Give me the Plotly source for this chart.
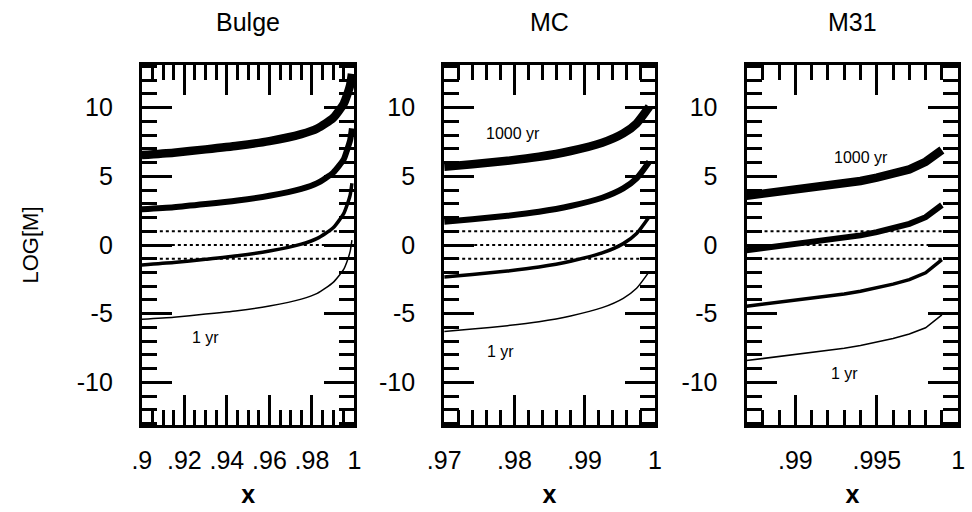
import plotly.graph_objects as go

# ---------------- data ----------------
panel_titles = ["Bulge", "MC", "M31"]

bulge_x = [0.9, 0.915, 0.93, 0.945, 0.96, 0.975, 0.9825, 0.99, 0.995, 0.9965, 0.998, 0.9988]
bulge_1000yr = [6.55, 6.72, 6.96, 7.22, 7.56, 8.07, 8.48, 9.25, 10.3, 10.9, 11.65, 12.45]
bulge_100yr = [2.6, 2.75, 2.98, 3.24, 3.58, 4.08, 4.5, 5.27, 6.25, 6.9, 7.65, 8.48]
bulge_10yr = [-1.45, -1.28, -1.04, -0.78, -0.44, 0.06, 0.48, 1.25, 2.3, 2.9, 3.65, 4.5]
bulge_1yr = [-5.4, -5.25, -5.03, -4.78, -4.44, -3.94, -3.52, -2.72, -1.75, -1.2, -0.45, 0.36]

mc_x = [0.97, 0.974, 0.979, 0.9835, 0.988, 0.9925, 0.9955, 0.9974, 0.9992]
mc_1000yr = [5.7, 5.88, 6.13, 6.42, 6.84, 7.44, 8.12, 8.85, 10.06]
mc_100yr = [1.7, 1.88, 2.13, 2.42, 2.84, 3.44, 4.12, 4.85, 6.06]
mc_10yr = [-2.33, -2.14, -1.89, -1.6, -1.18, -0.58, 0.1, 0.84, 2.06]
mc_1yr = [-6.3, -6.12, -5.87, -5.58, -5.16, -4.56, -3.88, -3.15, -1.94]

m31_x = [0.987, 0.988, 0.989, 0.990, 0.991, 0.992, 0.993, 0.994, 0.995, 0.996, 0.997, 0.998, 0.999]
m31_1000yr = [3.58, 3.73, 3.86, 4.0, 4.14, 4.3, 4.46, 4.66, 4.9, 5.17, 5.5, 6.06, 6.91]
m31_100yr = [-0.38, -0.24, -0.1, 0.04, 0.18, 0.34, 0.5, 0.7, 0.94, 1.21, 1.54, 2.02, 2.91]
m31_10yr = [-4.46, -4.31, -4.17, -4.03, -3.89, -3.73, -3.56, -3.36, -3.12, -2.85, -2.52, -2.02, -1.06]
m31_1yr = [-8.41, -8.27, -8.13, -7.99, -7.85, -7.69, -7.52, -7.32, -7.08, -6.81, -6.48, -6.02, -5.09]

ref_levels = [1, 0, -1]

x_ranges = [[0.9, 1.0], [0.97, 1.0], [0.987, 1.0]]
x_tickvals = [[0.9, 0.92, 0.94, 0.96, 0.98, 1.0], [0.97, 0.98, 0.99, 1.0], [0.99, 0.995, 1.0]]
x_ticktext = [[".9", ".92", ".94", ".96", ".98", "1"], [".97", ".98", ".99", "1"], [".99", ".995", "1"]]
x_minor_dtick = [0.005, 0.002, 0.001]
y_tickvals = [-10, -5, 0, 5, 10]
y_ticktext = ["-10", "-5", "0", "5", "10"]

panels = [
    (bulge_x, [bulge_1000yr, bulge_100yr, bulge_10yr, bulge_1yr], "spline"),
    (mc_x, [mc_1000yr, mc_100yr, mc_10yr, mc_1yr], "spline"),
    (m31_x, [m31_1000yr, m31_100yr, m31_10yr, m31_1yr], "linear"),
]
line_widths = [8.5, 6, 3.5, 1.5]

# ---------------- figure ----------------
W, H = 972, 512
x_domains = [[128 / W, 346 / W], [438 / W, 654 / W], [748 / W, 965 / W]]
y_domain = [(H - 425) / H, (H - 65) / H]

fig = go.Figure()
FONT = "Liberation Sans, Arial, sans-serif"

for i, (xs, series, shp) in enumerate(panels):
    xa = "x" if i == 0 else f"x{i+1}"
    ya = "y" if i == 0 else f"y{i+1}"
    for lv in ref_levels:
        fig.add_trace(go.Scatter(x=x_ranges[i], y=[lv, lv], mode="lines",
                                 line=dict(color="black", width=2.2, dash="dot"),
                                 xaxis=xa, yaxis=ya, showlegend=False, hoverinfo="skip"))
    for s, lw in zip(series, line_widths):
        line = dict(color="black", width=lw, shape=shp)
        if shp == "spline":
            line["smoothing"] = 0.6
        fig.add_trace(go.Scatter(x=xs, y=s, mode="lines", line=line,
                                 xaxis=xa, yaxis=ya, showlegend=False))

axis_common = dict(showline=True, linecolor="black", linewidth=3, mirror="allticks",
                   ticks="inside", ticklen=30, tickwidth=2.5, tickcolor="black",
                   showgrid=False, zeroline=False,
                   tickfont=dict(family=FONT, size=25, color="black"))

for i in range(3):
    sfx = "" if i == 0 else str(i + 1)
    fig.layout["xaxis" + sfx] = dict(
        **axis_common, domain=x_domains[i], range=x_ranges[i],
        tickmode="array", tickvals=x_tickvals[i], ticktext=x_ticktext[i],
        minor=dict(dtick=x_minor_dtick[i], tick0=1.0, ticks="inside", ticklen=15,
                   tickwidth=2.5, tickcolor="black", showgrid=False),
        anchor="y" + sfx, ticklabelstandoff=11,
        title=dict(text="<b>x</b>", font=dict(family=FONT, size=25, color="black"), standoff=13),
    )
    fig.layout["yaxis" + sfx] = dict(
        **axis_common, domain=y_domain, range=[-13.1, 13.1],
        tickmode="array", tickvals=y_tickvals, ticktext=y_ticktext,
        minor=dict(dtick=1, tick0=0, ticks="inside", ticklen=15,
                   tickwidth=2.5, tickcolor="black", showgrid=False),
        anchor="x" + sfx, ticklabelstandoff=21,
    )

fig.layout.yaxis.title = dict(text="LOG[M]", font=dict(family=FONT, size=22, color="black"), standoff=32)

annots = []
for i, t in enumerate(panel_titles):
    annots.append(dict(text=t, xref="paper", yref="paper",
                       x=(x_domains[i][0] + x_domains[i][1]) / 2, y=(H - 22) / H,
                       showarrow=False, xanchor="center", yanchor="middle",
                       font=dict(family=FONT, size=25, color="black")))
lab_font = dict(family=FONT, size=16, color="black")
annots += [
    dict(text="1 yr", xref="x", yref="y", x=0.9298, y=-6.7, showarrow=False, font=lab_font),
    dict(text="1000 yr", xref="x2", yref="y2", x=0.97975, y=8.15, showarrow=False, font=lab_font),
    dict(text="1 yr", xref="x2", yref="y2", x=0.978, y=-7.76, showarrow=False, font=lab_font),
    dict(text="1000 yr", xref="x3", yref="y3", x=0.99402, y=6.38, showarrow=False, font=lab_font),
    dict(text="1 yr", xref="x3", yref="y3", x=0.99302, y=-9.33, showarrow=False, font=lab_font),
]

fig.update_layout(width=W, height=H, margin=dict(l=0, r=0, t=0, b=0),
                  paper_bgcolor="white", plot_bgcolor="white",
                  annotations=annots, showlegend=False)

fig.write_html("out.html")
